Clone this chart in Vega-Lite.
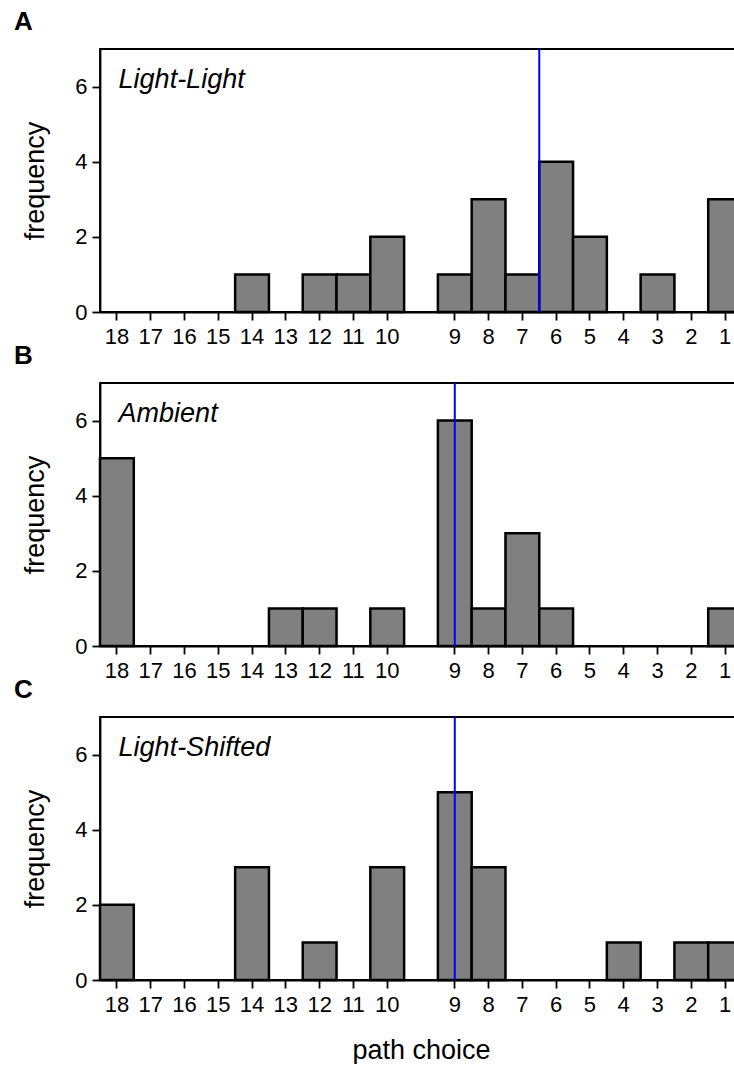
{
  "$schema": "https://vega.github.io/schema/vega-lite/v6.json",
  "padding": {"left": 13, "top": 8, "right": -7, "bottom": 0},
  "bounds": "flush",
  "spacing": 71,
  "datasets": {
    "bars": [
      {"panel": "A", "choice": "14", "count": 1},
      {"panel": "A", "choice": "12", "count": 1},
      {"panel": "A", "choice": "11", "count": 1},
      {"panel": "A", "choice": "10", "count": 2},
      {"panel": "A", "choice": "9", "count": 1},
      {"panel": "A", "choice": "8", "count": 3},
      {"panel": "A", "choice": "7", "count": 1},
      {"panel": "A", "choice": "6", "count": 4},
      {"panel": "A", "choice": "5", "count": 2},
      {"panel": "A", "choice": "3", "count": 1},
      {"panel": "A", "choice": "1", "count": 3},
      {"panel": "B", "choice": "18", "count": 5},
      {"panel": "B", "choice": "13", "count": 1},
      {"panel": "B", "choice": "12", "count": 1},
      {"panel": "B", "choice": "10", "count": 1},
      {"panel": "B", "choice": "9", "count": 6},
      {"panel": "B", "choice": "8", "count": 1},
      {"panel": "B", "choice": "7", "count": 3},
      {"panel": "B", "choice": "6", "count": 1},
      {"panel": "B", "choice": "1", "count": 1},
      {"panel": "C", "choice": "18", "count": 2},
      {"panel": "C", "choice": "14", "count": 3},
      {"panel": "C", "choice": "12", "count": 1},
      {"panel": "C", "choice": "10", "count": 3},
      {"panel": "C", "choice": "9", "count": 5},
      {"panel": "C", "choice": "8", "count": 3},
      {"panel": "C", "choice": "4", "count": 1},
      {"panel": "C", "choice": "2", "count": 1},
      {"panel": "C", "choice": "1", "count": 1}
    ],
    "medians": [
      {"panel": "A", "choice": "6"},
      {"panel": "B", "choice": "9"},
      {"panel": "C", "choice": "9"}
    ],
    "labels": [
      {"panel": "A", "label": "Light-Light"},
      {"panel": "B", "label": "Ambient"},
      {"panel": "C", "label": "Light-Shifted"}
    ]
  },
  "config": {
    "font": "Liberation Sans",
    "view": {"stroke": "black", "strokeWidth": 1.8},
    "axis": {
      "domainColor": "black", "domainWidth": 1.8,
      "tickColor": "black", "tickWidth": 1.8, "tickSize": 8,
      "labelFontSize": 22, "labelColor": "black", "labelFlush": false, "labelBound": false,
      "titleFontSize": 27, "titleFontWeight": "normal", "titleColor": "black",
      "grid": false
    },
    "axisX": {"labelPadding": 6, "labelAngle": 0, "titlePadding": 22},
    "axisY": {"labelPadding": 5, "titlePadding": 25},
    "title": {"fontSize": 26, "fontWeight": "bold", "anchor": "start", "frame": "group", "dx": -86, "offset": 13, "baseline": "alphabetic", "color": "black"}
  },
  "vconcat": [
    {
      "title": "A",
      "width": 642, "height": 263,
      "layer": [
        {
          "data": {"name": "bars"},
          "transform": [{"filter": "datum.panel === 'A'"}],
          "mark": {"type": "bar", "fill": "#808080", "stroke": "black", "strokeWidth": 2.5},
          "encoding": {
            "x": {"field": "choice", "type": "ordinal",
              "scale": {"domain": ["18","17","16","15","14","13","12","11","10","gap","9","8","7","6","5","4","3","2","1"], "paddingInner": 0, "paddingOuter": 0},
              "axis": {"values": ["18","17","16","15","14","13","12","11","10","9","8","7","6","5","4","3","2","1"], "title": null}},
            "y": {"field": "count", "type": "quantitative", "scale": {"domain": [0, 7], "nice": false}, "axis": {"values": [0, 2, 4, 6], "title": "frequency"}}
          }
        },
        {
          "data": {"name": "medians"},
          "transform": [{"filter": "datum.panel === 'A'"}],
          "mark": {"type": "rule", "color": "#0000ff", "strokeWidth": 2},
          "encoding": {"x": {"field": "choice", "type": "ordinal", "bandPosition": 0}}
        },
        {
          "data": {"name": "labels"},
          "transform": [{"filter": "datum.panel === 'A'"}],
          "mark": {"type": "text", "align": "left", "baseline": "alphabetic", "fontSize": 27, "fontStyle": "italic", "color": "black"},
          "encoding": {
            "x": {"datum": "18", "type": "ordinal", "bandPosition": 0.55},
            "y": {"datum": 5.97, "type": "quantitative"},
            "text": {"field": "label"}
          }
        }
      ]
    },
    {
      "title": "B",
      "width": 642, "height": 263,
      "layer": [
        {
          "data": {"name": "bars"},
          "transform": [{"filter": "datum.panel === 'B'"}],
          "mark": {"type": "bar", "fill": "#808080", "stroke": "black", "strokeWidth": 2.5},
          "encoding": {
            "x": {"field": "choice", "type": "ordinal",
              "scale": {"domain": ["18","17","16","15","14","13","12","11","10","gap","9","8","7","6","5","4","3","2","1"], "paddingInner": 0, "paddingOuter": 0},
              "axis": {"values": ["18","17","16","15","14","13","12","11","10","9","8","7","6","5","4","3","2","1"], "title": null}},
            "y": {"field": "count", "type": "quantitative", "scale": {"domain": [0, 7], "nice": false}, "axis": {"values": [0, 2, 4, 6], "title": "frequency"}}
          }
        },
        {
          "data": {"name": "medians"},
          "transform": [{"filter": "datum.panel === 'B'"}],
          "mark": {"type": "rule", "color": "#0000ff", "strokeWidth": 2},
          "encoding": {"x": {"field": "choice", "type": "ordinal", "bandPosition": 0.5}}
        },
        {
          "data": {"name": "labels"},
          "transform": [{"filter": "datum.panel === 'B'"}],
          "mark": {"type": "text", "align": "left", "baseline": "alphabetic", "fontSize": 27, "fontStyle": "italic", "color": "black"},
          "encoding": {
            "x": {"datum": "18", "type": "ordinal", "bandPosition": 0.55},
            "y": {"datum": 5.97, "type": "quantitative"},
            "text": {"field": "label"}
          }
        }
      ]
    },
    {
      "title": "C",
      "width": 642, "height": 263,
      "layer": [
        {
          "data": {"name": "bars"},
          "transform": [{"filter": "datum.panel === 'C'"}],
          "mark": {"type": "bar", "fill": "#808080", "stroke": "black", "strokeWidth": 2.5},
          "encoding": {
            "x": {"field": "choice", "type": "ordinal",
              "scale": {"domain": ["18","17","16","15","14","13","12","11","10","gap","9","8","7","6","5","4","3","2","1"], "paddingInner": 0, "paddingOuter": 0},
              "axis": {"values": ["18","17","16","15","14","13","12","11","10","9","8","7","6","5","4","3","2","1"], "title": "path choice"}},
            "y": {"field": "count", "type": "quantitative", "scale": {"domain": [0, 7], "nice": false}, "axis": {"values": [0, 2, 4, 6], "title": "frequency"}}
          }
        },
        {
          "data": {"name": "medians"},
          "transform": [{"filter": "datum.panel === 'C'"}],
          "mark": {"type": "rule", "color": "#0000ff", "strokeWidth": 2},
          "encoding": {"x": {"field": "choice", "type": "ordinal", "bandPosition": 0.5}}
        },
        {
          "data": {"name": "labels"},
          "transform": [{"filter": "datum.panel === 'C'"}],
          "mark": {"type": "text", "align": "left", "baseline": "alphabetic", "fontSize": 27, "fontStyle": "italic", "color": "black"},
          "encoding": {
            "x": {"datum": "18", "type": "ordinal", "bandPosition": 0.55},
            "y": {"datum": 5.97, "type": "quantitative"},
            "text": {"field": "label"}
          }
        }
      ]
    }
  ]
}
